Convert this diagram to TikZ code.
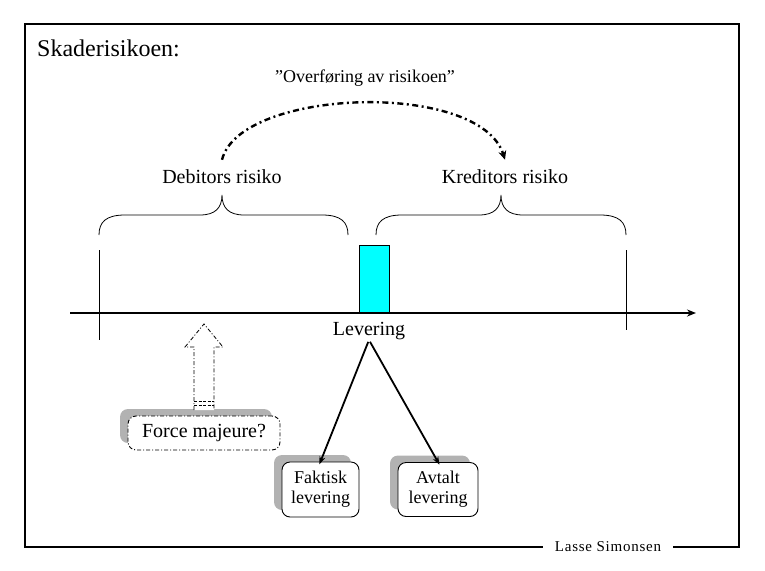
\documentclass[tikz,border=0pt]{standalone}
\usepackage{fontspec}
\setmainfont{Liberation Serif}
\usetikzlibrary{arrows.meta,shadows}
\definecolor{purecyan}{RGB}{0,255,255}
\definecolor{shadowgray}{RGB}{178,178,178}
\begin{document}
\begin{tikzpicture}[x=1pt,y=-1pt,
  lbl/.style={font=\fontsize{20}{22}\selectfont, inner sep=0pt},
  shbox/.style={rounded corners=8pt, fill=white, draw=black, line width=0.9pt,
    drop shadow={shadow xshift=-8pt, shadow yshift=7pt, fill=shadowgray, opacity=1}},
  dashdot/.style={dash pattern=on 4pt off 2pt on 1pt off 2pt},
  arcdash/.style={line width=2.4pt, dash pattern=on 6pt off 3.5pt on 2pt off 3.5pt},
  conn/.style={line width=1.8pt, -{Stealth[length=8pt,width=6pt]}}
]
\useasboundingbox (0,0) rectangle (765,570);

% frame and signature
\node[font=\fontsize{15}{17}\selectfont\addfontfeatures{LetterSpace=5}, inner xsep=12pt, inner ysep=0pt] (lasse) at (608,547) {Lasse Simonsen};
\draw[line width=1.2pt] (lasse.west) -- (25,547) -- (25,24) -- (739,24) -- (739,547) -- (lasse.east);

% title
\node[font=\fontsize{24}{26}\selectfont, inner sep=0pt, anchor=west] (title) at (37,48) {Skaderisikoen:};

% transfer label and arc
\node[font=\fontsize{18}{20}\selectfont, inner sep=0pt] (over) at (365,78) {”Overføring av risikoen”};
\node[lbl] (deb) at (222,177) {Debitors risiko};
\node[lbl] (kred) at (505,177) {Kreditors risiko};
\draw[arcdash, -{Stealth[length=9pt,width=8pt]}] ([yshift=10pt]deb.north) .. controls (240,88) and (480,80) .. ([yshift=10pt]kred.north);

% braces
\draw[line width=0.8pt] (99,235) .. controls (99,222) and (106,215) .. (125,215) -- (200,215)
  .. controls (215,215) and (222,208) .. (222,195) .. controls (222,208) and (229,215) .. (244,215)
  -- (322,215) .. controls (341,215) and (348,222) .. (348,235);
\draw[line width=0.8pt] (376,235) .. controls (376,222) and (383,215) .. (402,215) -- (479,215)
  .. controls (494,215) and (501,208) .. (501,195) .. controls (501,208) and (508,215) .. (523,215)
  -- (600,215) .. controls (619,215) and (626,222) .. (626,235);

% ticks
\coordinate (tl1) at (99,250); \coordinate (tl2) at (99,340);
\coordinate (tr1) at (626,250); \coordinate (tr2) at (626,330);
\draw[line width=0.9pt] (tl1) -- (tl2);
\draw[line width=0.9pt] (tr1) -- (tr2);

% delivery block
\node[draw=black, fill=purecyan, line width=0.9pt, minimum width=30pt, minimum height=68pt, inner sep=0pt] (block) at (374,279) {};

% axis
\coordinate (ax0) at (70,313); \coordinate (ax1) at (696,313);
\draw[line width=2.2pt, -{Stealth[length=9pt,width=7pt]}] (ax0) -- (ax1);

\node[lbl] (lev) at (369,331) {Levering};

% outcome boxes
\node[shbox, minimum width=77pt, minimum height=55pt, align=center, font=\fontsize{18}{20}\selectfont, inner sep=0pt] (fak) at (320.5,489.5) {Faktisk\\levering};
\node[shbox, minimum width=80pt, minimum height=54pt, align=center, font=\fontsize{18}{20}\selectfont, inner sep=0pt] (avt) at (438,489.5) {Avtalt\\levering};
\draw[conn, shorten <=2pt, shorten >=-3pt] (lev.south) -- (fak.north);
\draw[conn, shorten <=2pt, shorten >=-3pt] (lev.south) -- (avt.north);

% force majeure
\node[shbox, dashdot, minimum width=152pt, minimum height=34pt, inner sep=0pt, font=\fontsize{20}{22}\selectfont] (force) at (204,433) {Force majeure?};
\draw[dashdot, line width=0.8pt, fill=white] (194,410) -- (194,347) -- (185,347) -- (204,324) -- (223,347) -- (214,347) -- (214,410);
\draw[dash pattern=on 3pt off 1.5pt, line width=0.8pt] (194,401) -- (214,401);
\draw[dash pattern=on 3pt off 1.5pt, line width=0.8pt] (194,405) -- (214,405);
\end{tikzpicture}
\end{document}
